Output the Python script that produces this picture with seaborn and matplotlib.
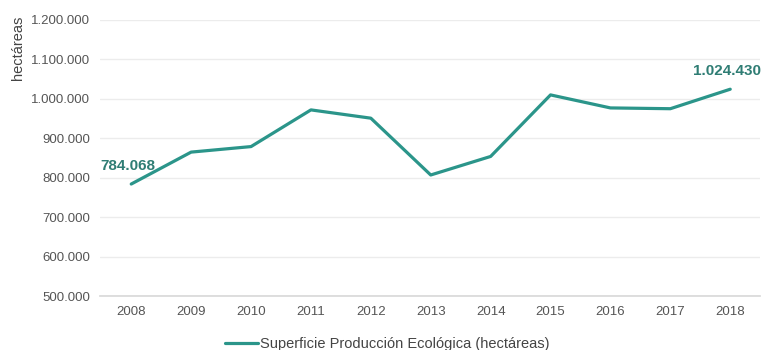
import matplotlib
matplotlib.use("Agg")
import matplotlib.pyplot as plt
import seaborn as sns
import pandas as pd
from matplotlib.ticker import FuncFormatter

years = ["2008", "2009", "2010", "2011", "2012", "2013", "2014", "2015", "2016", "2017", "2018"]
hectareas = [784068, 865000, 879000, 972000, 951000, 807000, 854000, 1010000, 977000, 975000, 1024430]
series_name = "Superficie Producción Ecológica (hectáreas)"

sns.set_theme(style="white")
plt.rcParams['font.family'] = ['Liberation Sans', 'DejaVu Sans']

df = pd.DataFrame({"Año": years, "hectáreas": hectareas, "serie": series_name})

fig = plt.figure(figsize=(7.64, 3.5), dpi=100)
ax = fig.add_axes([0.131, 0.154, 0.864, 0.789])
color = "#2b958a"
sns.lineplot(data=df, x="Año", y="hectáreas", hue="serie", palette=[color],
             linewidth=2.3, ax=ax, sort=False)

ax.set_ylim(500000, 1200000)
ax.set_yticks(range(500000, 1200001, 100000))
ax.yaxis.set_major_formatter(FuncFormatter(lambda v, p: f"{int(v):,}".replace(",", ".")))
ax.set_xlim(-0.52, len(years) - 0.5)
ax.grid(axis="y", color="#ececec", linewidth=1)
for s in ax.spines.values():
    s.set_visible(False)
ax.spines["bottom"].set_visible(True)
ax.spines["bottom"].set_color("#d9d9d9")
ax.tick_params(axis="both", labelsize=9.5, colors="#555555", length=0, pad=7)
ax.set_xlabel("")
ax.set_ylabel("hectáreas", fontsize=10.5, color="#444444", labelpad=4)
ax.yaxis.set_label_coords(-0.114, 0.9)

fmt = lambda v: f"{int(v):,}".replace(",", ".")
ax.annotate(fmt(hectareas[0]), (0, hectareas[0]), xytext=(-22, 10), textcoords="offset points",
            fontsize=11, fontweight="bold", color="#2f7d74")
ax.annotate(fmt(hectareas[-1]), (len(years) - 1, hectareas[-1]), xytext=(-27, 10), textcoords="offset points",
            fontsize=11, fontweight="bold", color="#2f7d74")

leg = ax.legend(loc="upper center", bbox_to_anchor=(0.435, -0.1), frameon=False,
                fontsize=10.5, handlelength=2.3, handletextpad=0.15)
for t in leg.get_texts():
    t.set_color("#444444")

fig.savefig("out.png", dpi=100)
